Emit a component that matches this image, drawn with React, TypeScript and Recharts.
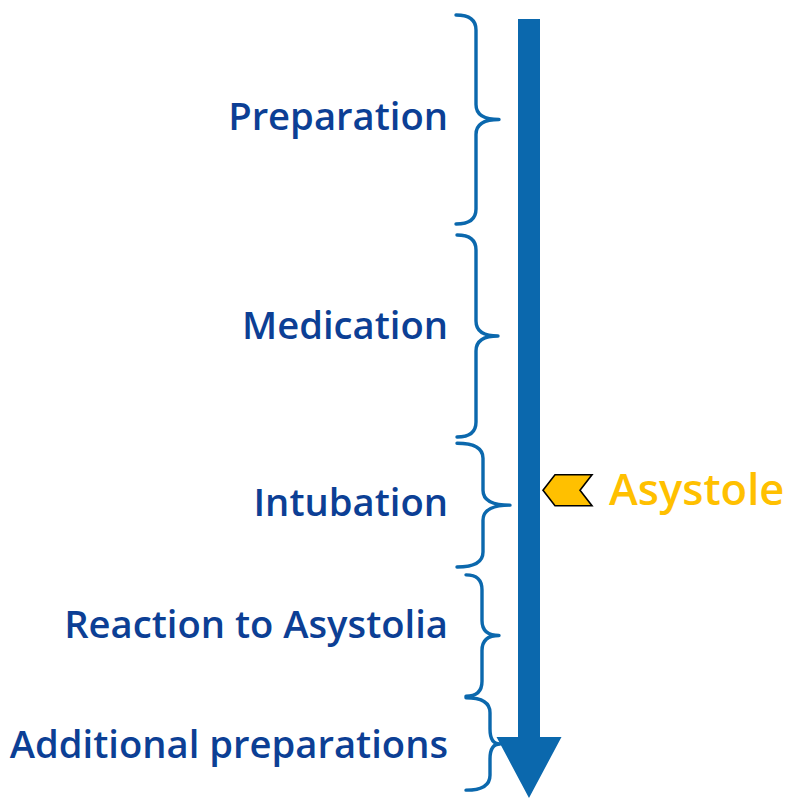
import React from "react";
import {
  ComposedChart,
  XAxis,
  YAxis,
  Scatter,
  ReferenceArea,
} from "recharts";

// ---- data (timeline units, 0 = start, 100 = end of procedure) ----
const phases = [
  "Preparation",
  "Medication",
  "Intubation",
  "Reaction to Asystolia",
  "Additional preparations",
];
const phaseStart = [0, 28.1, 54.7, 71.5, 87.2];
const phaseEnd = [26.7, 53.9, 70.5, 87.0, 99.0];
const labelTime = [12.9, 39.7, 62.3, 77.8, 93.2];
const timelineStart = 0.5;
const timelineEnd = 100;
const eventName = "Asystole";
const eventTime = 60.7;

// ---- layout / style ----
const W = 790;
const H = 799;
const BLUE = "#0B68AD";
const TEXT_BLUE = "#0C3F95";
const YELLOW = "#FFC000";
const FONT = "'Open Sans', 'Noto Sans', sans-serif";
const BRACE_X: number[][] = [
  [456, 476, 499],
  [457, 476, 498],
  [457, 483, 510],
  [466, 482, 499],
  [466, 490, 500],
];
const LABEL_X = 448;
const EVENT_X = 543;
const ARROW_X1 = 518;
const ARROW_X2 = 540;

const labelData = phases.map((name, i) => ({ x: LABEL_X, t: labelTime[i], name }));
const eventData = [{ x: EVENT_X, t: eventTime, name: eventName }];

const makeBrace = (i: number) => (props: any) => {
  const { y, height } = props;
  const [x0, xm, xt] = BRACE_X[i];
  const top = y;
  const bot = y + height;
  const mid = (top + bot) / 2;
  const r = Math.min(15, height / 6);
  const d = [
    `M ${x0} ${top}`,
    `Q ${xm} ${top} ${xm} ${top + r}`,
    `L ${xm} ${mid - r}`,
    `Q ${xm} ${mid} ${xt} ${mid}`,
    `Q ${xm} ${mid} ${xm} ${mid + r}`,
    `L ${xm} ${bot - r}`,
    `Q ${xm} ${bot} ${x0} ${bot}`,
  ].join(" ");
  return (
    <path
      d={d}
      fill="none"
      stroke={BLUE}
      strokeWidth={3.4}
      strokeLinecap="round"
      strokeLinejoin="round"
    />
  );
};

const ArrowShape = (props: any) => {
  const { x, y, width, height } = props;
  const cx = x + width / 2;
  const bot = y + height;
  const headH = 61;
  const headHalf = 32.5;
  const d = [
    `M ${x} ${y}`,
    `L ${x + width} ${y}`,
    `L ${x + width} ${bot - headH}`,
    `L ${cx + headHalf} ${bot - headH}`,
    `L ${cx} ${bot}`,
    `L ${cx - headHalf} ${bot - headH}`,
    `L ${x} ${bot - headH}`,
    "Z",
  ].join(" ");
  return <path d={d} fill={BLUE} stroke="none" />;
};

const LabelShape = (props: any) => {
  const { cx, cy, payload } = props;
  return (
    <text
      x={cx}
      y={cy + 13.5}
      textAnchor="end"
      fill={TEXT_BLUE}
      fontFamily={FONT}
      fontWeight={600}
      fontSize={38.2}
    >
      {payload.name}
    </text>
  );
};

const EventShape = (props: any) => {
  const { cx, cy, payload } = props;
  const h = 15.5;
  const d = [
    `M ${cx} ${cy}`,
    `L ${cx + 12} ${cy - h}`,
    `L ${cx + 49} ${cy - h}`,
    `L ${cx + 37} ${cy}`,
    `L ${cx + 49} ${cy + h}`,
    `L ${cx + 12} ${cy + h}`,
    "Z",
  ].join(" ");
  return (
    <g>
      <path d={d} fill={YELLOW} stroke="#000" strokeWidth={1.6} strokeLinejoin="miter" />
      <text
        x={cx + 66}
        y={cy + 14.5}
        fill={YELLOW}
        fontFamily={FONT}
        fontWeight={600}
        fontSize={43.5}
      >
        {payload.name}
      </text>
    </g>
  );
};

export default function App() {
  return (
    <div style={{ width: W, height: H, background: "#fff" }}>
      <style>{`body{margin:0;}`}</style>
      <ComposedChart
        width={W}
        height={H}
        margin={{ top: 15, right: 0, bottom: 1, left: 0 }}
      >
        <XAxis type="number" dataKey="x" domain={[0, W]} hide allowDataOverflow />
        <YAxis type="number" dataKey="t" domain={[0, 100]} reversed hide allowDataOverflow />
        <ReferenceArea
          x1={ARROW_X1}
          x2={ARROW_X2}
          y1={timelineStart}
          y2={timelineEnd}
          ifOverflow="visible"
          shape={ArrowShape}
        />
        {phases.map((p, i) => (
          <ReferenceArea
            key={p}
            x1={BRACE_X[i][0]}
            x2={BRACE_X[i][2]}
            y1={phaseStart[i]}
            y2={phaseEnd[i]}
            ifOverflow="visible"
            shape={makeBrace(i)}
          />
        ))}
        <Scatter data={labelData} shape={LabelShape} isAnimationActive={false} />
        <Scatter data={eventData} shape={EventShape} isAnimationActive={false} />
      </ComposedChart>
    </div>
  );
}
